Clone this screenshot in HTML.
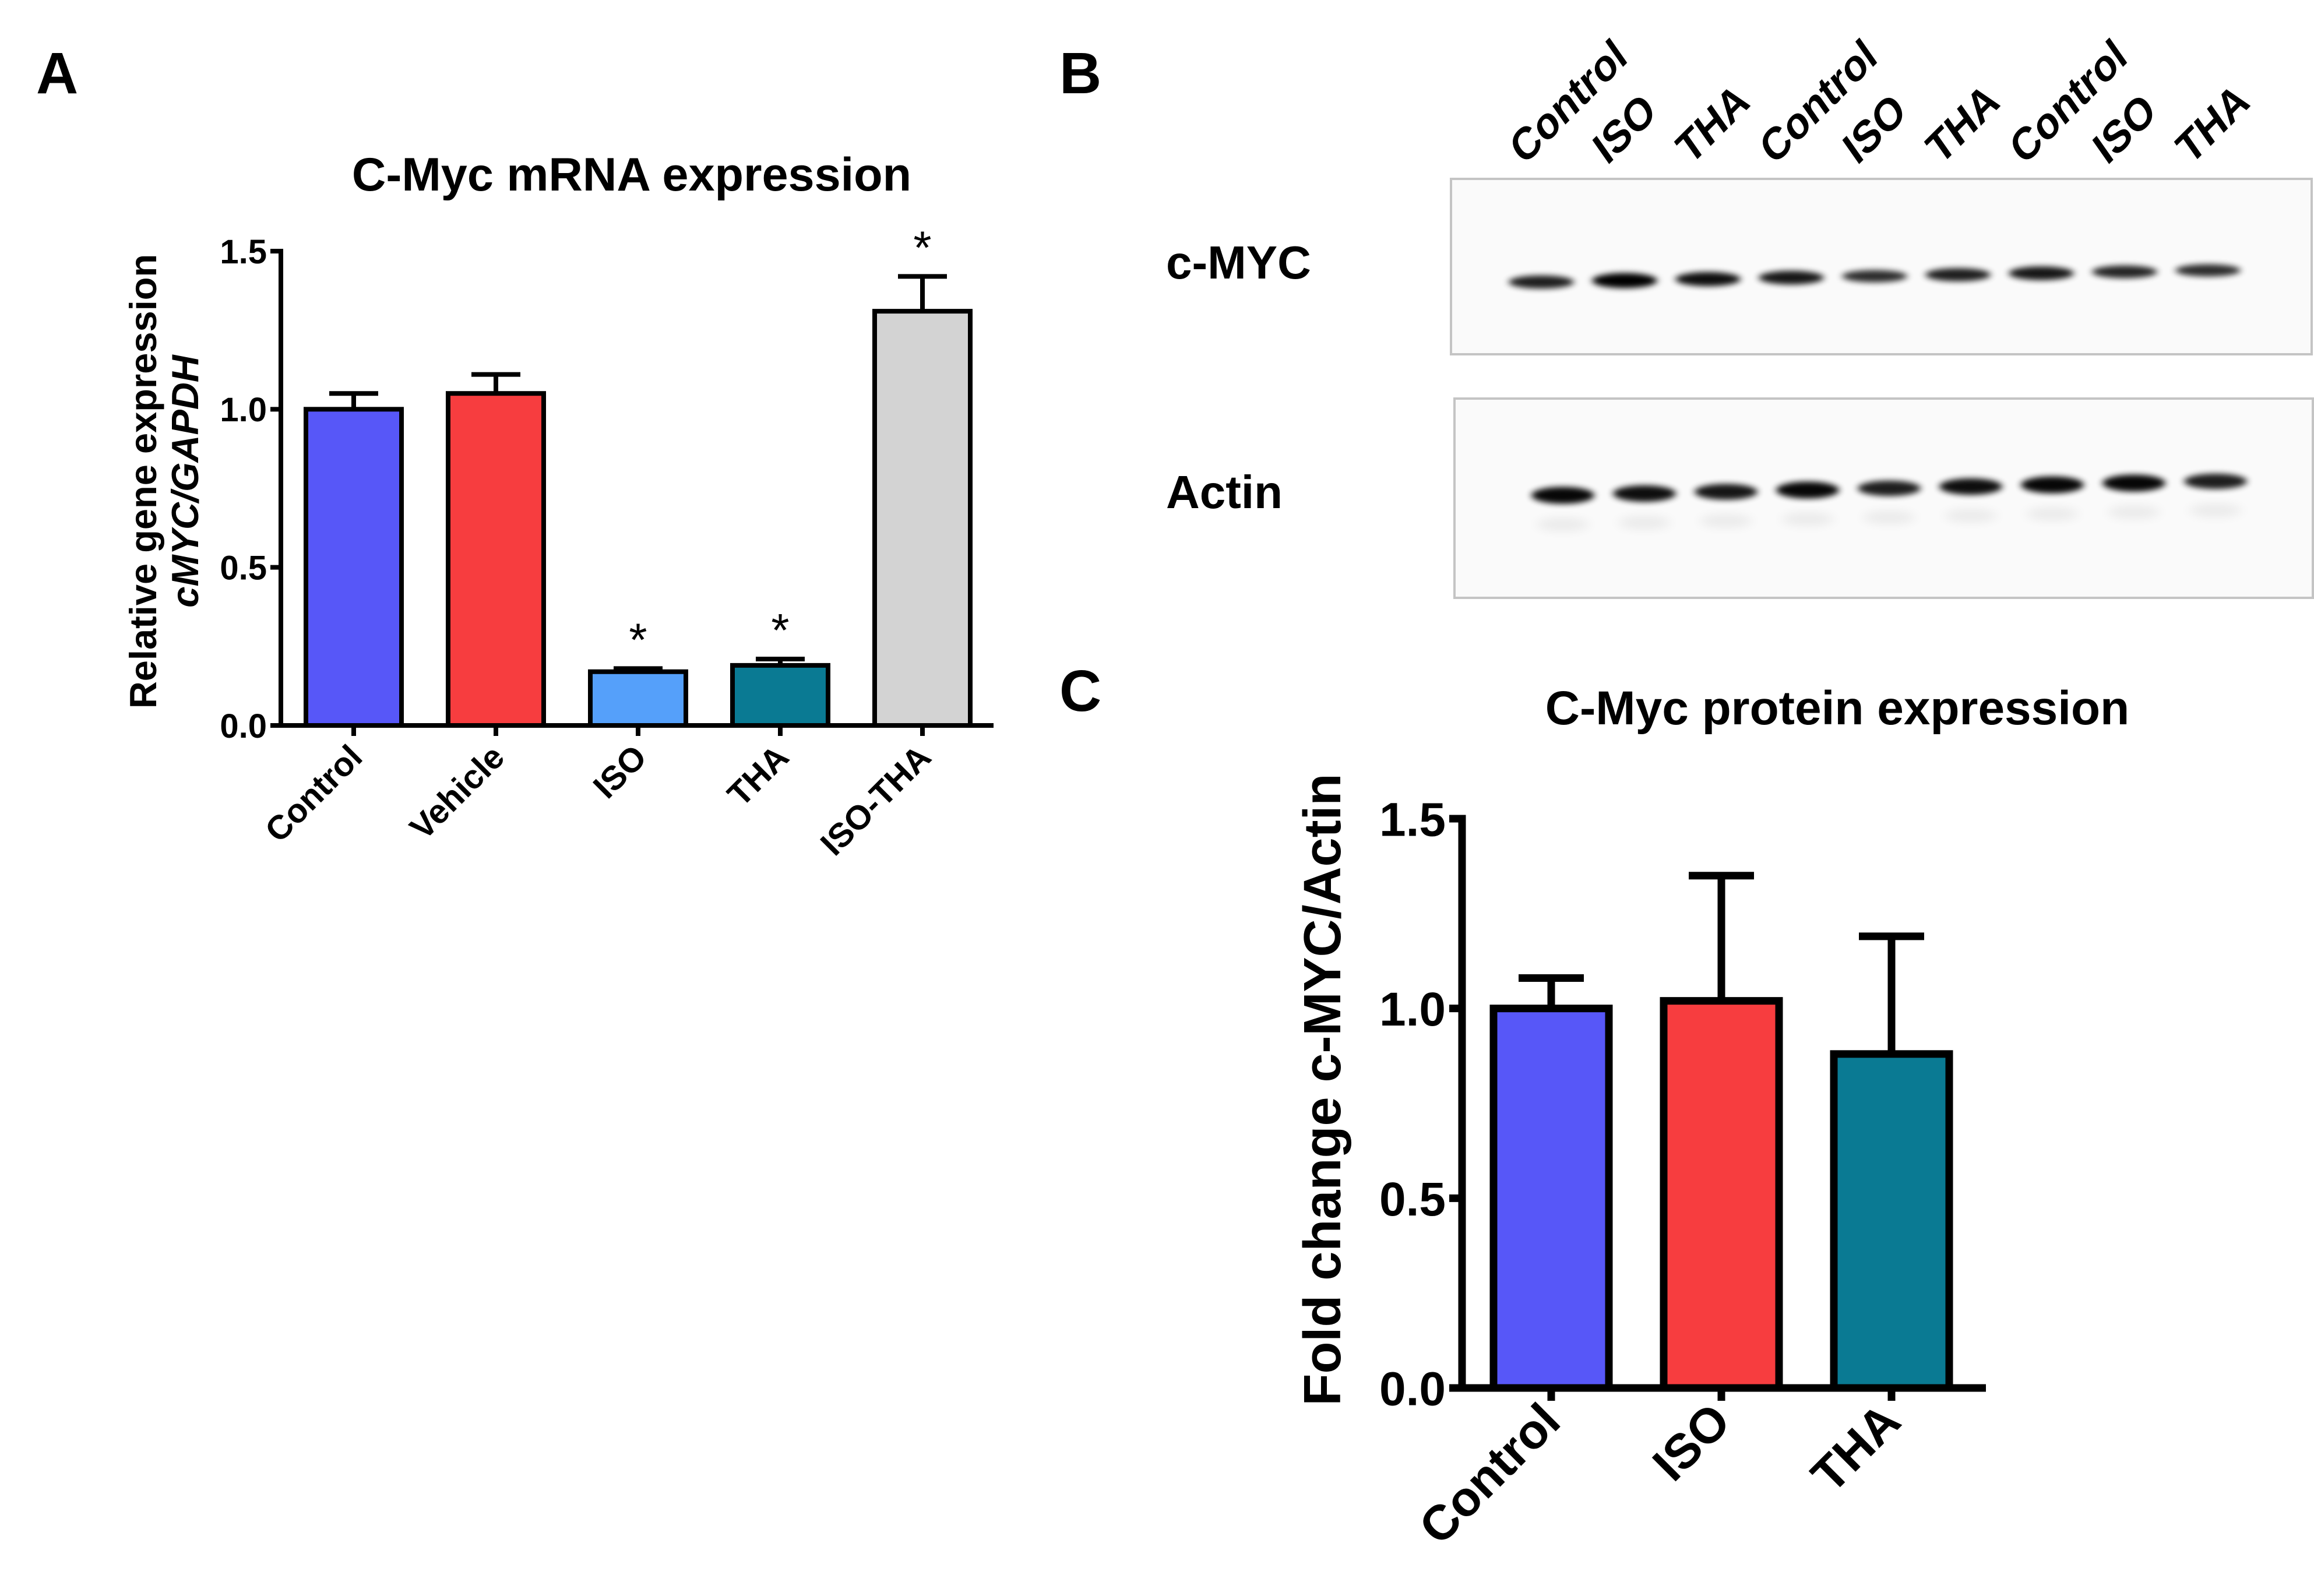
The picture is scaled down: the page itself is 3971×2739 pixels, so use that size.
<!DOCTYPE html>
<html><head><meta charset="utf-8"><style>
html,body{margin:0;padding:0;background:#fff;}
svg{display:block;font-family:"Liberation Sans",Arial,sans-serif;font-weight:bold;}
</style></head><body>
<svg id="fig" width="3971" height="2739" viewBox="0 0 3971 2739" xmlns="http://www.w3.org/2000/svg">
<defs>
<filter id="blur" x="-30%" y="-200%" width="160%" height="500%"><feGaussianBlur stdDeviation="6 5"/></filter>
<filter id="blur2" x="-30%" y="-200%" width="160%" height="500%"><feGaussianBlur stdDeviation="10 8"/></filter>
</defs>
<text x="62" y="160" font-size="100">A</text>
<text x="1818" y="160" font-size="100">B</text>
<text x="1818" y="1220" font-size="100">C</text>

<text x="1084" y="327" font-size="81" text-anchor="middle">C-Myc mRNA expression</text>
<g transform="translate(268,826) rotate(-90)">
<text x="0" y="0" font-size="65" text-anchor="middle">Relative gene expression</text>
<text x="0" y="72" font-size="65" text-anchor="middle" font-style="italic">cMYC/GAPDH</text>
</g>
<g id="chartA"></g>

<text x="3153" y="1243" font-size="82" text-anchor="middle">C-Myc protein expression</text>
<text transform="translate(2300,1870) rotate(-90)" font-size="90" text-anchor="middle">Fold change c-MYC/Actin</text>
<g id="chartC"></g>

<g id="blot">
<rect x="2490" y="307" width="1477" height="301" fill="#fafafa" stroke="#c4c4c4" stroke-width="4"/>
<rect x="2496" y="684" width="1473" height="342" fill="#fafafa" stroke="#c4c4c4" stroke-width="4"/>
<text x="2001" y="478" font-size="80">c-MYC</text>
<text x="2001" y="872" font-size="80">Actin</text>
</g>
</svg>
<script>
const NS="http://www.w3.org/2000/svg";
function mk(parent,tag,attrs){const e=document.createElementNS(NS,tag);for(const k in attrs)e.setAttribute(k,attrs[k]);parent.appendChild(e);return e;}

// Chart A data
const catsA=["Control","Vehicle","ISO","THA","ISO-THA"];
const valsA=[1.0,1.05,0.17,0.19,1.31];
const errA=[0.05,0.06,0.01,0.02,0.11];
const sigA=[false,false,true,true,true];
const colorsA=["#5757f8","#f73d3f","#55a0fa","#0a7a93","#d3d3d3"];
const ticksA=[0,0.5,1.0,1.5];
const tickLabelsA=["0.0","0.5","1.0","1.5"];

// Chart C data
const catsC=["Control","ISO","THA"];
const valsC=[1.0,1.02,0.88];
const errC=[0.08,0.33,0.31];
const colorsC=["#5757f8","#f73d3f","#0a7a93"];
const ticksC=[0,0.5,1.0,1.5];
const tickLabelsC=["0.0","0.5","1.0","1.5"];

// Blot data (relative band intensities, lane labels)
const lanes=["Control","ISO","THA","Control","ISO","THA","Control","ISO","THA"];
const mycIntensity=[0.8,1.0,0.9,0.85,0.7,0.8,0.85,0.75,0.7];
const actinIntensity=[0.95,0.9,0.85,0.95,0.8,0.9,0.95,0.95,0.8];

function barChart(g,o){
  const y=v=>o.y0-(v/o.ymax)*(o.y0-o.ytop);
  const xc=i=>o.x0+o.first+i*o.step;
  o.vals.forEach((v,i)=>{
    const top=y(v), et=y(v+o.err[i]);
    const ln=mk(g,"line",{x1:xc(i),x2:xc(i),y1:top,y2:et,stroke:"#000","stroke-width":o.lw});
    
    
    const cap=mk(g,"line",{x1:xc(i)-o.cap,x2:xc(i)+o.cap,y1:et,y2:et,stroke:"#000","stroke-width":o.lw});
    
    
    const r=mk(g,"rect",{x:xc(i)-o.bw/2,y:top,width:o.bw,height:o.y0-top,fill:o.colors[i],stroke:"#000","stroke-width":o.lw});
    
    
    if(o.sig&&o.sig[i]){
      const s=mk(g,"text",{x:xc(i),y:et-o.starGap,"font-size":o.starSize,"text-anchor":"middle","font-weight":"normal"});
      s.textContent="*";
      
      
    }
    const tk=mk(g,"line",{x1:xc(i),x2:xc(i),y1:o.y0,y2:o.y0+o.tick,stroke:"#000","stroke-width":o.lw});
    
    
    const lb=mk(g,"text",{transform:`translate(${xc(i)+o.lblDx},${o.y0+o.lblDy}) rotate(-45)`,"font-size":o.lblSize,"text-anchor":"end"});
    lb.textContent=o.cats[i];
    
    
  });
  const ya=mk(g,"line",{x1:o.x0,x2:o.x0,y1:o.ytop-o.lw/2,y2:o.y0+o.lw/2,stroke:"#000","stroke-width":o.lw});
  
  
  const xa=mk(g,"line",{x1:o.x0-o.lw/2,x2:o.xend,y1:o.y0,y2:o.y0,stroke:"#000","stroke-width":o.lw});
  
  
  o.ticks.forEach((t,i)=>{
    const tl=mk(g,"line",{x1:o.x0-o.tick,x2:o.x0,y1:y(t),y2:y(t),stroke:"#000","stroke-width":o.lw});
    
    
    const tx=mk(g,"text",{x:o.x0-o.tick-6,y:y(t)+o.tickSize*0.36,"font-size":o.tickSize,"text-anchor":"end"});
    tx.textContent=o.tickLabels[i];
    
    
  });
}
barChart(document.getElementById("chartA"),{x0:482,y0:1245,ytop:431,ymax:1.5,xend:1705,first:125,step:244,bw:164,lw:8,cap:42,tick:18,
  cats:catsA,vals:valsA,err:errA,colors:colorsA,sig:sigA,ticks:ticksA,tickLabels:tickLabelsA,tickSize:58,lblSize:58,lblDx:18,lblDy:58,starSize:80,starGap:22});
barChart(document.getElementById("chartC"),{x0:2509,y0:2382,ytop:1405,ymax:1.5,xend:3408,first:153,step:292,bw:198,lw:13,cap:56,tick:22,
  cats:catsC,vals:valsC,err:errC,colors:colorsC,ticks:ticksC,tickLabels:tickLabelsC,tickSize:82,lblSize:84,lblDx:20,lblDy:62});

const blot=document.getElementById("blot");
lanes.forEach((l,i)=>{
  const cx=2645+i*143, tx=cx-30;
  const t=mk(blot,"text",{transform:`translate(${tx},${285}) rotate(-45) skewX(-10)`,"font-size":72});
  t.textContent=l;
  
  
  const my=mk(blot,"ellipse",{cx:cx,cy:484-i*2.5,rx:56,ry:5+8*mycIntensity[i],fill:"#000",opacity:0.4+0.6*mycIntensity[i],filter:"url(#blur)"});
  
  
  const acx=2682+i*140;
  const ac=mk(blot,"ellipse",{cx:acx,cy:850-i*3,rx:54,ry:6+9*actinIntensity[i],fill:"#000",opacity:0.4+0.6*actinIntensity[i],filter:"url(#blur)"});
  
  
  const fa=mk(blot,"ellipse",{cx:acx,cy:900-i*3,rx:45,ry:12,fill:"#000",opacity:0.06,filter:"url(#blur2)"});
  
  
});
</script>
</body></html>
